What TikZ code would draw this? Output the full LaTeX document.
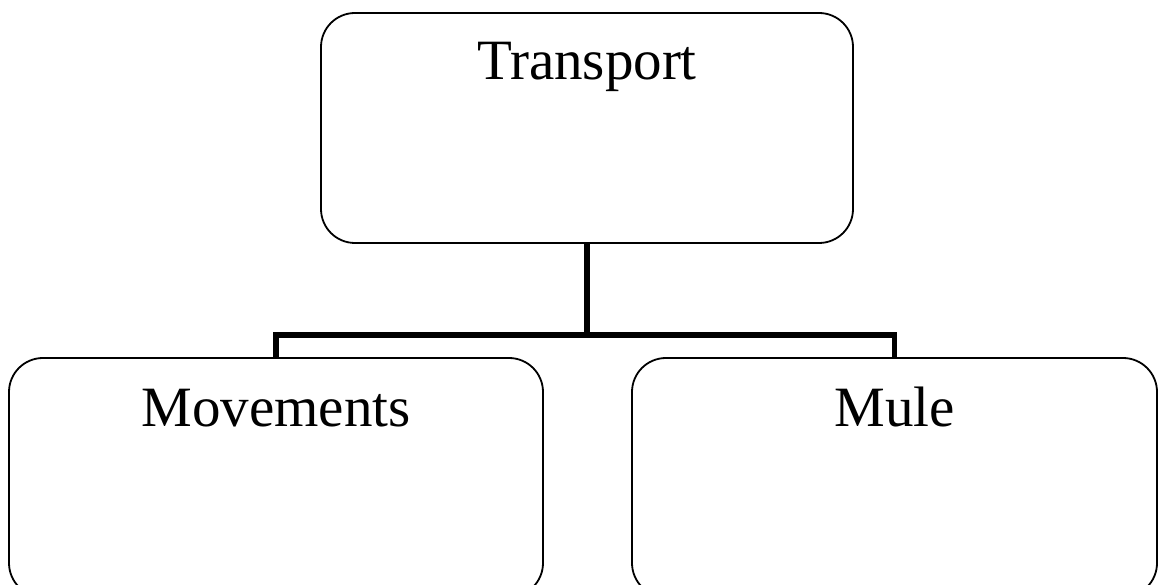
\documentclass[tikz,border=0pt]{standalone}
\usepackage{fontspec}
\setmainfont{Liberation Serif}
\usetikzlibrary{positioning,calc}

\begin{document}
\begin{tikzpicture}[
    x=1pt, y=1pt,
    box/.style={draw, line width=1.8pt, rounded corners=34pt, inner sep=0pt},
    title/.style={font=\fontsize{57}{68}\selectfont, anchor=base},
    conn/.style={line width=5.5pt}
]

\useasboundingbox (0,0) rectangle (1159,584);

% Boxes
\node[box, minimum width=532pt, minimum height=230pt] (transport) at (587,456) {};
\node[box, minimum width=534pt, minimum height=239pt] (movements) at (276,106.5) {};
\node[box, minimum width=525pt, minimum height=239pt] (mule) at (894.5,106.5) {};

% Labels
\node[title] (ttransport) at ($(transport.north)+(0,-67)$) {Transport};
\node[title] (tmovements) at ($(movements.north)+(0,-69)$) {Movements};
\node[title] (tmule) at ($(mule.north)+(0,-69)$) {Mule};

% Connectors
\coordinate (split) at (587,249);
\draw[conn] (transport.south) -- (split);
\draw[conn] (movements.north) |- (split) -| (mule.north);

\end{tikzpicture}
\end{document}
